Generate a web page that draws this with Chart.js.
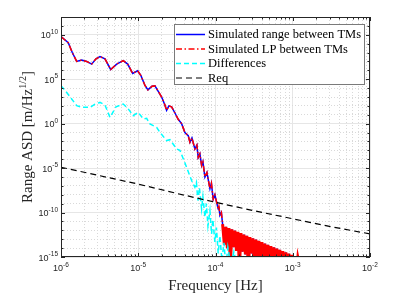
<!DOCTYPE html>
<html>
<head>
<meta charset="utf-8">
<script src="https://cdn.jsdelivr.net/npm/chart.js@4.4.1/dist/chart.umd.min.js"></script>
<style>
    html, body { margin: 0; padding: 0; background: #fff; }
    #wrap { width: 399px; height: 299px; }
</style>
</head>
<body>
<div id="wrap"><canvas id="asdChart" width="399" height="299"></canvas></div>
<script>
(function () {
    "use strict";

    /*----------------------------------------*/
    /*  data (log10 of frequency / log10 of ASD)
    /*----------------------------------------*/
    const rangeLogF = [
        -6.000, -5.906, -5.854, -5.797, -5.732, -5.668, -5.603, -5.547, -5.495, -5.431,
        -5.357, -5.279, -5.194, -5.137, -5.072, -5.008, -4.965, -4.913, -4.875, -4.823,
        -4.784, -4.745, -4.697, -4.655, -4.633, -4.603, -4.568, -4.525, -4.483, -4.439,
        -4.396, -4.353, -4.331, -4.305, -4.267, -4.241, -4.224, -4.202, -4.180, -4.163,
        -4.137, -4.111, -4.072, -4.053, -4.030, -4.008, -3.965, -3.956, -3.943, -3.924,
        -3.908
    ];
    const rangeLogA = [
        9.8, 9.1, 8.0, 7.0, 7.15, 7.0, 6.7, 7.3, 7.55, 7.3,
        6.1, 6.7, 7.1, 6.7, 5.65, 5.95, 5.4, 4.3, 3.8, 4.2,
        4.25, 3.7, 3.0, 2.1, 1.5, 2.0, 1.9, 1.2, 0.5, 0.0,
        -1.0, -1.35, -2.1, -1.6, -2.85, -2.4, -3.8, -3.4, -4.7, -4.3,
        -6.0, -5.5, -7.3, -6.7, -8.5, -8.0, -9.6, -9.3, -10.3, -10.0,
        -11.3
    ];
    // noisy high-frequency part (oscillates bin to bin)
    const bandLogF = [
        -3.885, -3.865, -3.846, -3.826, -3.807, -3.788, -3.768, -3.749, -3.729, -3.710,
        -3.690, -3.671, -3.652, -3.632, -3.613, -3.594, -3.574, -3.555, -3.535, -3.516,
        -3.496, -3.477, -3.457, -3.438, -3.419, -3.399, -3.380, -3.361, -3.341, -3.322,
        -3.302, -3.283, -3.263, -3.244, -3.225, -3.205, -3.186, -3.167, -3.147, -3.128,
        -3.108, -3.089, -3.069, -3.050, -3.031, -3.011, -2.992, -2.972, -2.953, -2.934,
        -2.900
    ];
    const bandLogA = [
        -13.6, -11.60, -14.0, -11.75, -16.0, -11.89, -13.9, -12.04, -14.3, -12.18,
        -16.2, -12.32, -14.4, -12.47, -14.7, -12.61, -16.4, -12.76, -14.6, -12.90,
        -16.5, -13.04, -15.0, -13.19, -16.8, -13.33, -17.0, -13.48, -16.8, -13.62,
        -17.0, -13.76, -16.8, -13.91, -17.0, -14.05, -16.8, -14.20, -17.0, -14.34,
        -16.8, -14.48, -17.0, -14.63, -16.8, -14.77, -17.0, -14.92, -16.8, -15.06,
        -16.5
    ];
    const diffLogF = [
        -6.000, -5.935, -5.862, -5.797, -5.728, -5.625, -5.560, -5.495, -5.431, -5.366,
        -5.288, -5.194, -5.133, -5.065, -5.000, -4.935, -4.891, -4.849, -4.762, -4.719,
        -4.633, -4.590, -4.503, -4.461, -4.374, -4.309, -4.267, -4.247, -4.228, -4.208,
        -4.180, -4.163, -4.137, -4.118, -4.098, -4.072, -4.051, -4.034, -4.008, -3.988,
        -3.965, -3.943, -3.917, -3.891, -3.865, -3.840, -3.801, -3.762, -3.710, -3.646,
        -3.500
    ];
    const diffLogA = [
        4.27, 3.6, 2.78, 2.02, 1.85, 1.83, 2.2, 2.39, 2.1, 0.71,
        1.9, 2.21, 1.7, 0.9, 1.27, 0.53, 0.6, -0.03, -0.42, -0.98,
        -1.9, -1.8, -2.84, -3.0, -4.9, -6.4, -7.15, -6.6, -8.65, -7.2,
        -9.6, -8.2, -10.5, -9.0, -11.5, -9.8, -12.4, -10.8, -13.3, -11.7,
        -14.6, -12.6, -15.4, -13.4, -16.0, -13.9, -16.0, -14.4, -16.5, -15.05,
        -17.0
    ];
    const reqLogF = [-6, -5.5, -5, -4.5, -4, -3.5, -3, -2.5, -2];
    const reqLogA = [-4.9, -5.85, -6.8, -7.85, -8.85, -9.8, -10.7, -11.6, -12.4];

    const seriesLabels = [
        'Simulated range between TMs',
        'Simulated LP between TMs',
        'Differences',
        'Req'
    ];
    const xTickExps = [-6, -5, -4, -3, -2];
    const yTickExps = [-15, -10, -5, 0, 5, 10];

    function toPoints(lf, la) {
        return lf.map((f, i) => ({ x: Math.pow(10, f), y: Math.pow(10, la[i]) }));
    }

    const mainPts = toPoints(rangeLogF, rangeLogA).concat(toPoints(bandLogF, bandLogA));
    const bandStart = rangeLogF.length - 1;

    // grid positions: minor multiples on x, every decade on y
    const xGrid = [];
    for (let e = -6; e <= -3; e++) {
        for (let m = 1; m <= 9; m++) xGrid.push(m * Math.pow(10, e));
    }
    xGrid.push(1e-2);
    const yGrid = [];
    for (let e = -15; e <= 12; e++) yGrid.push(Math.pow(10, e));

    const isDecade = v => Math.abs(Math.log10(v) - Math.round(Math.log10(v))) < 1e-6;
    const isMajorY = v => Math.round(Math.log10(v)) % 5 === 0;

    const AX = '#262626';
    const TICK_FONT = '"Liberation Sans", Arial, sans-serif';
    const SERIF = '"Liberation Serif", "Times New Roman", serif';

    function drawPow(ctx, x, base, exp, align) {
        ctx.font = '9px ' + TICK_FONT;
        const wb = ctx.measureText('10').width;
        ctx.font = '6.5px ' + TICK_FONT;
        const es = String(exp);
        const we = ctx.measureText(es).width;
        const total = wb + we;
        const x0 = align === 'center' ? x - total / 2 : x - total;
        ctx.textAlign = 'left';
        ctx.textBaseline = 'alphabetic';
        ctx.font = '9px ' + TICK_FONT;
        ctx.fillText('10', x0, base);
        ctx.font = '6.5px ' + TICK_FONT;
        ctx.fillText(es, x0 + wb, base - 4.5);
    }

    const axisDecor = {
        id: 'axisDecor',
        afterDatasetsDraw(chart) {
            const { ctx, chartArea: a, scales } = chart;
            const x = scales.x, y = scales.y;
            ctx.save();
            ctx.setLineDash([]);
            ctx.strokeStyle = AX;
            ctx.lineWidth = 1;
            ctx.beginPath();
            // inside tick marks, all four sides
            x.ticks.forEach(t => {
                const px = Math.round(x.getPixelForValue(t.value)) + 0.5;
                const len = isDecade(t.value) ? 4 : 2.5;
                ctx.moveTo(px, a.bottom); ctx.lineTo(px, a.bottom - len);
                ctx.moveTo(px, a.top); ctx.lineTo(px, a.top + len);
            });
            y.ticks.forEach(t => {
                const py = Math.round(y.getPixelForValue(t.value)) + 0.5;
                const len = isMajorY(t.value) ? 4 : 2.5;
                ctx.moveTo(a.left, py); ctx.lineTo(a.left + len, py);
                ctx.moveTo(a.right, py); ctx.lineTo(a.right - len, py);
            });
            ctx.stroke();
            ctx.strokeRect(a.left + 0.5, a.top + 0.5, a.right - a.left - 1, a.bottom - a.top - 1);

            // tick labels
            ctx.fillStyle = AX;
            xTickExps.forEach(e => drawPow(ctx, x.getPixelForValue(Math.pow(10, e)), 271, e, 'center'));
            yTickExps.forEach(e => drawPow(ctx, 58, y.getPixelForValue(Math.pow(10, e)) + 3.5, e, 'right'));

            // axis titles
            ctx.font = '15px ' + SERIF;
            ctx.textAlign = 'center';
            ctx.fillText('Frequency [Hz]', (a.left + a.right) / 2, 290);

            ctx.save();
            ctx.translate(32, (a.top + a.bottom) / 2);
            ctx.rotate(-Math.PI / 2);
            const p1 = 'Range ASD [m/Hz', p2 = '1/2', p3 = ']';
            ctx.font = '15px ' + SERIF;
            const w1 = ctx.measureText(p1).width, w3 = ctx.measureText(p3).width;
            ctx.font = '10px ' + SERIF;
            const w2 = ctx.measureText(p2).width;
            const sx = -(w1 + w2 + w3) / 2;
            ctx.textAlign = 'left';
            ctx.font = '15px ' + SERIF;
            ctx.fillText(p1, sx, 0);
            ctx.font = '10px ' + SERIF;
            ctx.fillText(p2, sx + w1, -6);
            ctx.font = '15px ' + SERIF;
            ctx.fillText(p3, sx + w1 + w2, 0);
            ctx.restore();

            // legend box
            const lx = 174.5, ly = 24.5, lw = 190, lh = 60;
            ctx.fillStyle = '#ffffff';
            ctx.fillRect(lx, ly, lw, lh);
            ctx.strokeStyle = '#7a7a7a';
            ctx.lineWidth = 1;
            ctx.strokeRect(lx, ly, lw, lh);
            const rows = [34.5, 49, 63.5, 78];
            ctx.font = '12.5px ' + SERIF;
            ctx.textAlign = 'left';
            ctx.textBaseline = 'middle';
            chart.data.datasets.forEach((ds, i) => {
                ctx.strokeStyle = ds.borderColor;
                ctx.lineWidth = ds.borderWidth;
                ctx.setLineDash(ds.borderDash || []);
                ctx.beginPath();
                ctx.moveTo(176, rows[i]);
                ctx.lineTo(205, rows[i]);
                ctx.stroke();
                ctx.setLineDash([]);
                ctx.fillStyle = '#000';
                ctx.fillText(ds.label, 208, rows[i] + 0.5);
            });
            ctx.restore();
        }
    };

    const inBand = c => c.p0DataIndex >= bandStart;

    new Chart(document.getElementById('asdChart'), {
        type: 'line',
        data: {
            datasets: [{
                label: seriesLabels[0],
                data: mainPts,
                borderColor: '#0000ff',
                borderWidth: 1.5,
                order: 4
            }, {
                label: seriesLabels[1],
                data: mainPts,
                borderColor: '#ff0000',
                borderWidth: 1.5,
                borderDash: [6, 2.5, 1.5, 2.5],
                segment: {
                    borderWidth: c => inBand(c) ? 3 : undefined,
                    borderDash: c => inBand(c) ? [] : undefined
                },
                order: 3
            }, {
                label: seriesLabels[2],
                data: toPoints(diffLogF, diffLogA),
                borderColor: '#00ffff',
                borderWidth: 1.5,
                borderDash: [5, 3],
                order: 2
            }, {
                label: seriesLabels[3],
                data: toPoints(reqLogF, reqLogA),
                borderColor: '#000000',
                borderWidth: 1.2,
                borderDash: [6, 4],
                order: 1
            }]
        },
        options: {
            responsive: false,
            animation: false,
            events: [],
            layout: { padding: { left: 61, top: 17, right: 29, bottom: 42 } },
            elements: { point: { radius: 0 }, line: { tension: 0 } },
            datasets: { line: { clip: 0 } },
            plugins: { legend: { display: false }, tooltip: { enabled: false } },
            scales: {
                x: {
                    type: 'logarithmic',
                    min: 1e-6,
                    max: 1e-2,
                    afterBuildTicks: s => { s.ticks = xGrid.map(v => ({ value: v })); },
                    afterFit: s => { s.height = 0; },
                    ticks: { display: false },
                    grid: {
                        drawTicks: false,
                        lineWidth: 1,
                        color: c => isDecade(c.tick.value) ? '#e6e6e6' : '#d9d9d9'
                    },
                    border: {
                        display: false,
                        dash: c => isDecade(c.tick.value) ? [] : [1, 2]
                    }
                },
                y: {
                    type: 'logarithmic',
                    min: 1e-15,
                    max: 1e12,
                    afterBuildTicks: s => { s.ticks = yGrid.map(v => ({ value: v })); },
                    afterFit: s => { s.width = 0; },
                    ticks: { display: false },
                    grid: {
                        drawTicks: false,
                        lineWidth: 1,
                        color: c => isMajorY(c.tick.value) ? '#e6e6e6' : '#d9d9d9'
                    },
                    border: {
                        display: false,
                        dash: c => isMajorY(c.tick.value) ? [] : [1, 2]
                    }
                }
            }
        },
        plugins: [axisDecor]
    });
})();
</script>
</body>
</html>
